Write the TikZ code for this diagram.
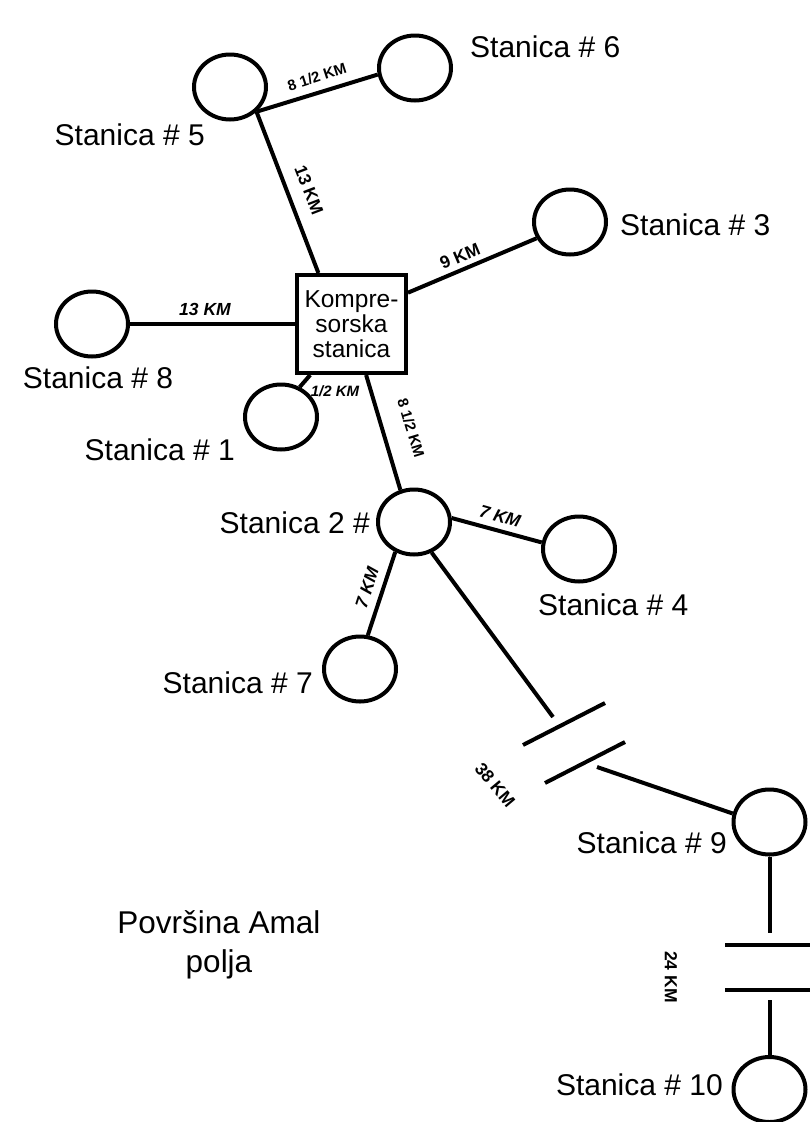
\documentclass[tikz,border=0pt]{standalone}
\usepackage{fontspec}
\setmainfont{Liberation Sans}
\usetikzlibrary{shapes.geometric}
\tikzset{
  st/.style={ellipse, draw, line width=4pt, minimum width=72pt, minimum height=65pt, inner sep=0pt},
  ln/.style={line width=4pt},
  lbl/.style={font=\fontsize{30}{34}\selectfont, inner sep=0pt},
  km/.style={font=\bfseries\fontsize{17.5}{19}\selectfont, inner sep=0pt},
  kmi/.style={font=\bfseries\itshape\fontsize{17.5}{19}\selectfont, inner sep=0pt},
  kms/.style={font=\bfseries\fontsize{15}{16}\selectfont, inner sep=0pt},
}
\begin{document}
\begin{tikzpicture}[x=1pt,y=-1pt]
\useasboundingbox (0,0) rectangle (810,1122);
\fill[white] (0,0) rectangle (810,1122);

% stations
\node[st] (s5) at (230,87) {};
\node[st] (s6) at (415,68) {};
\node[st] (s3) at (570,222) {};
\node[st] (s8) at (92,324) {};
\node[st] (s1) at (281,417) {};
\node[st] (s2) at (414,522) {};
\node[st] (s4) at (579,549) {};
\node[st] (s7) at (360,669) {};
\node[st] (s9) at (769.5,822) {};
\node[st] (s10) at (769.5,1089.5) {};

% compressor station
\node[draw, line width=4pt, minimum width=109pt, minimum height=98pt, inner sep=0pt,
      align=center, font=\fontsize{24.5}{25}\selectfont] (ks) at (351.5,324) {Kompre-\\sorska\\stanica};

% connectors
\coordinate (j5) at (s5.-43);
\draw[ln] (j5) -- (s6.190);
\draw[ln] (j5) -- (ks.123);
\draw[ln] (ks.29) -- (s3.206);
\draw[ln] (s8.east) -- (ks.west);
\draw[ln] (s1.58) -- (ks.231);
\draw[ln] (ks.-74) -- (s2.113);
\draw[ln] (s2.6) -- (s4.170);
\draw[ln] (s2.238) -- (s7.77);

% broken line to station 9
\coordinate (e1) at (553,717);
\coordinate (b1a) at (523,745);
\coordinate (b1b) at (605,703);
\coordinate (b2a) at (545,783);
\coordinate (b2b) at (625,742);
\coordinate (e2) at (597,767);
\draw[ln] (s2.-60) -- (e1);
\draw[ln] (b1a) -- (b1b);
\draw[ln] (b2a) -- (b2b);
\draw[ln] (e2) -- (s9.167);

% broken line to station 10
\coordinate (e3) at (769.5,933);
\coordinate (b3a) at (725,945);
\coordinate (b3b) at (812,945);
\coordinate (b4a) at (725,990);
\coordinate (b4b) at (812,990);
\coordinate (e4) at (769.5,1000);
\draw[ln] (s9.south) -- (e3);
\draw[ln] (b3a) -- (b3b);
\draw[ln] (b4a) -- (b4b);
\draw[ln] (e4) -- (s10.north);

% distance labels
\node[kms, rotate=18] (d56) at (317,77) {8 1/2 KM};
\node[km, rotate=-69] (d5k) at (309,190) {13 KM};
\node[km, rotate=23] (d3) at (460,256) {9 KM};
\node[kmi] (d8) at (205,309) {13 KM};
\node[kmi, font=\bfseries\itshape\fontsize{15}{16}\selectfont] (d1) at (335,391) {1/2 KM};
\node[kms, rotate=-73] (d2) at (411,428) {8 1/2 KM};
\node[kmi, rotate=-16] (d4) at (500,516) {7 KM};
\node[kmi, rotate=72] (d7) at (367,588) {7 KM};
\node[km, rotate=-50] (d9) at (495,785) {38 KM};
\node[km, rotate=-90] (d10) at (671,977) {24 KM};

% station labels
\node[lbl, anchor=base west] (t6) at (470,57) {Stanica \# 6};
\node[lbl, anchor=base east] (t5) at (205,145) {Stanica \# 5};
\node[lbl, anchor=base west] (t3) at (620,235) {Stanica \# 3};
\node[lbl, anchor=base] (t8) at (98,388) {Stanica \# 8};
\node[lbl, anchor=base east] (t1) at (235,460) {Stanica \# 1};
\node[lbl, anchor=base east] (t2) at (370,533) {Stanica 2 \#};
\node[lbl, anchor=base west] (t4) at (538,615) {Stanica \# 4};
\node[lbl, anchor=base east] (t7) at (313,693) {Stanica \# 7};
\node[lbl, anchor=base east] (t9) at (727,853) {Stanica \# 9};
\node[lbl, anchor=base east] (t10) at (723,1095) {Stanica \# 10};

% field label
\node[lbl, anchor=base, font=\fontsize{31.5}{36}\selectfont] (p1) at (219,933) {Površina Amal};
\node[lbl, anchor=base, font=\fontsize{31.5}{36}\selectfont] (p2) at (219,972) {polja};
\end{tikzpicture}
\end{document}
